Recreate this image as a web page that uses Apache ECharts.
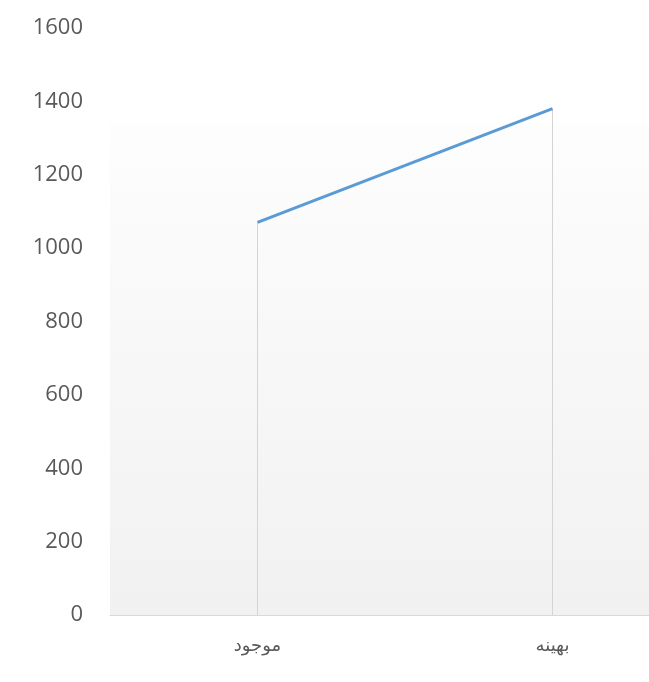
<!DOCTYPE html>
<html>
<head>
<meta charset="utf-8">
<script src="https://cdn.jsdelivr.net/npm/echarts@6/dist/echarts.min.js"></script>
<style>
  html,body{margin:0;padding:0;background:#fff;}
  #chart{width:649px;height:682px;}
</style>
</head>
<body>
<div id="chart"></div>
<script>
  // data
  var categories = ['موجود', 'بهینه'];
  var values = [1070, 1380];
  var yTicks = {min: 0, max: 1600, interval: 200};

  var myChart = echarts.init(document.getElementById('chart'));
  var option = {
    animation: false,
    grid: {
      left: 110,
      top: 28,
      bottom: 67,
      right: -51,
      outerBoundsMode: 'none',
      containLabel: false,
      show: true,
      borderWidth: 0,
      backgroundColor: new echarts.graphic.LinearGradient(0, 0, 0, 1, [
        {offset: 0, color: '#ffffff'},
        {offset: 0.16, color: '#ffffff'},
        {offset: 0.17, color: '#fdfdfd'},
        {offset: 1, color: '#f1f1f1'}
      ])
    },
    xAxis: {
      type: 'category',
      data: categories,
      boundaryGap: true,
      axisLine: {lineStyle: {color: '#d9d9d9', width: 1}},
      axisTick: {show: false},
      axisLabel: {
        color: '#595959',
        fontFamily: 'DejaVu Sans',
        fontSize: 18,
        margin: 22
      }
    },
    yAxis: {
      type: 'value',
      min: yTicks.min,
      max: yTicks.max,
      interval: yTicks.interval,
      axisLine: {show: false},
      axisTick: {show: false},
      splitLine: {show: false},
      axisLabel: {
        color: '#595959',
        fontFamily: 'Open Sans',
        fontSize: 22,
        margin: 27,
        formatter: function (v) { return String(v); }
      }
    },
    series: [
      {
        // drop lines
        type: 'bar',
        data: values,
        barWidth: 1,
        itemStyle: {color: '#d4d4d4'},
        z: 1
      },
      {
        type: 'line',
        data: values,
        showSymbol: false,
        lineStyle: {color: '#5b9bd5', width: 3},
        z: 3
      }
    ]
  };
  myChart.setOption(option);
</script>
</body>
</html>
